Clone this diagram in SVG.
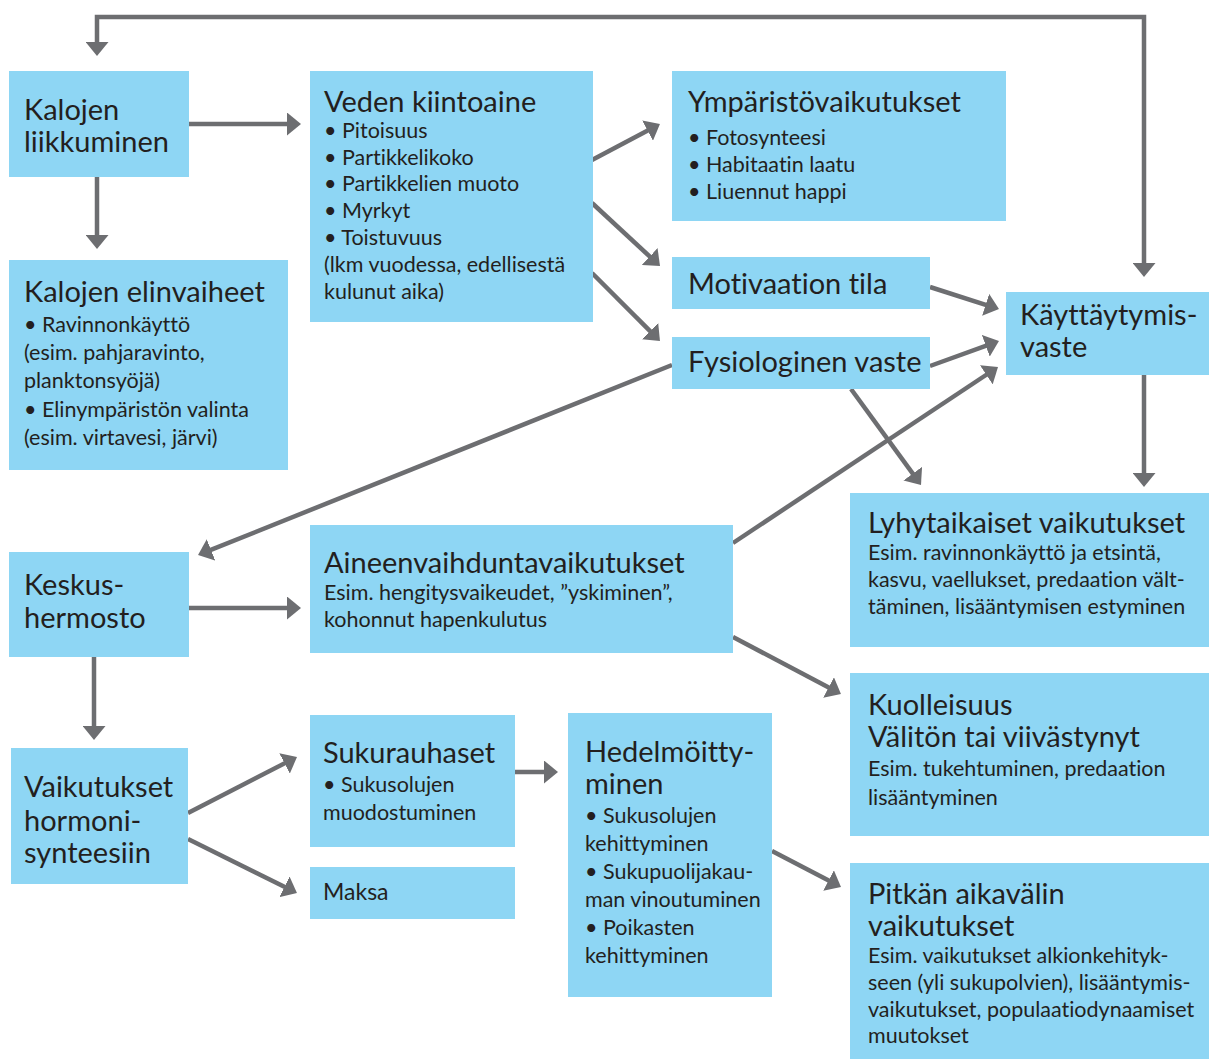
<svg xmlns="http://www.w3.org/2000/svg" width="1209" height="1059" viewBox="0 0 1209 1059">
<style>
.box{fill:#8ed6f4}
text{font-family:Lato,"Liberation Sans",sans-serif;fill:#231f20;font-variant-ligatures:none}
.t{font-size:29px}
.b{font-size:21.5px}
.c{fill:none;stroke:#6d6e71;stroke-width:4.5}
</style>
<defs>
<marker id="ah" markerUnits="userSpaceOnUse" viewBox="0 0 14 23" markerWidth="14" markerHeight="23" refX="5" refY="11.5" orient="auto-start-reverse">
<path d="M0,0 L14,11.5 L0,23 Z" fill="#6d6e71"/>
</marker>
</defs>
<rect width="1209" height="1059" fill="#ffffff"/>

<g id="connectors">
<path class="c" d="M97,47 L97,17 L1144,17 L1144,268" marker-start="url(#ah)" marker-end="url(#ah)"/>
<path class="c" d="M189,124 L292,124" marker-end="url(#ah)"/>
<path class="c" d="M97,177 L97,240" marker-end="url(#ah)"/>
<path class="c" d="M592,160 L652,128.2" marker-end="url(#ah)"/>
<path class="c" d="M592,203 L653.4,259.9" marker-end="url(#ah)"/>
<path class="c" d="M592,273 L653.6,334.6" marker-end="url(#ah)"/>
<path class="c" d="M930,287 L990.4,306.3" marker-end="url(#ah)"/>
<path class="c" d="M930,366 L990.5,344.1" marker-end="url(#ah)"/>
<path class="c" d="M733,543 L990.5,372" marker-end="url(#ah)"/>
<path class="c" d="M851,389 L915.7,477.7" marker-end="url(#ah)"/>
<path class="c" d="M1144,375 L1144,478" marker-end="url(#ah)"/>
<path class="c" d="M672,365 L206.4,551.7" marker-end="url(#ah)"/>
<path class="c" d="M189,608 L292,608" marker-end="url(#ah)"/>
<path class="c" d="M94,657 L94,731" marker-end="url(#ah)"/>
<path class="c" d="M733,637 L833,689.8" marker-end="url(#ah)"/>
<path class="c" d="M188,813 L289,761.1" marker-end="url(#ah)"/>
<path class="c" d="M188,839 L288.9,889" marker-end="url(#ah)"/>
<path class="c" d="M515,772 L549,772" marker-end="url(#ah)"/>
<path class="c" d="M772,851 L833,882.8" marker-end="url(#ah)"/>
</g>

<g id="kalojen-liikkuminen">
<rect class="box" x="9" y="71" width="180" height="106"/>
<text class="t" x="24" y="120">Kalojen</text>
<text class="t" x="24" y="152">liikkuminen</text>
</g>

<g id="veden-kiintoaine">
<rect class="box" x="310" y="71" width="283" height="251"/>
<text class="t" x="324" y="112">Veden kiintoaine</text>
<text class="b" x="324" y="138">• Pitoisuus</text>
<text class="b" x="324" y="165">• Partikkelikoko</text>
<text class="b" x="324" y="191">• Partikkelien muoto</text>
<text class="b" x="324" y="218">• Myrkyt</text>
<text class="b" x="324" y="245">• Toistuvuus</text>
<text class="b" x="324" y="272">(lkm vuodessa, edellisestä</text>
<text class="b" x="324" y="299">kulunut aika)</text>
</g>

<g id="ymparistovaikutukset">
<rect class="box" x="672" y="71" width="334" height="150"/>
<text class="t" x="688" y="112">Ympäristövaikutukset</text>
<text class="b" x="688" y="145">• Fotosynteesi</text>
<text class="b" x="688" y="172">• Habitaatin laatu</text>
<text class="b" x="688" y="199">• Liuennut happi</text>
</g>

<g id="kalojen-elinvaiheet">
<rect class="box" x="9" y="260" width="279" height="210"/>
<text class="t" x="24" y="302">Kalojen elinvaiheet</text>
<text class="b" x="24" y="332">• Ravinnonkäyttö</text>
<text class="b" x="24" y="360">(esim. pahjaravinto,</text>
<text class="b" x="24" y="388">planktonsyöjä)</text>
<text class="b" x="24" y="417">• Elinympäristön valinta</text>
<text class="b" x="24" y="445">(esim. virtavesi, järvi)</text>
</g>

<g id="motivaation-tila">
<rect class="box" x="672" y="257" width="258" height="52"/>
<text class="t" x="688" y="294">Motivaation tila</text>
</g>

<g id="fysiologinen-vaste">
<rect class="box" x="672" y="337" width="258" height="52"/>
<text class="t" x="688" y="372">Fysiologinen vaste</text>
</g>

<g id="kayttaytymisvaste">
<rect class="box" x="1006" y="292" width="203" height="83"/>
<text class="t" x="1020" y="325">Käyttäytymis-</text>
<text class="t" x="1020" y="357">vaste</text>
</g>

<g id="lyhytaikaiset">
<rect class="box" x="850" y="493" width="359" height="154"/>
<text class="t" x="868" y="533">Lyhytaikaiset vaikutukset</text>
<text class="b" x="868" y="560">Esim. ravinnonkäyttö ja etsintä,</text>
<text class="b" x="868" y="587">kasvu, vaellukset, predaation vält-</text>
<text class="b" x="868" y="614">täminen, lisääntymisen estyminen</text>
</g>

<g id="keskushermosto">
<rect class="box" x="9" y="552" width="180" height="105"/>
<text class="t" x="24" y="595">Keskus-</text>
<text class="t" x="24" y="628">hermosto</text>
</g>

<g id="aineenvaihdunta">
<rect class="box" x="310" y="525" width="423" height="128"/>
<text class="t" x="324" y="573">Aineenvaihduntavaikutukset</text>
<text class="b" x="324" y="600">Esim. hengitysvaikeudet, ”yskiminen”,</text>
<text class="b" x="324" y="627">kohonnut hapenkulutus</text>
</g>

<g id="kuolleisuus">
<rect class="box" x="850" y="673" width="359" height="163"/>
<text class="t" x="868" y="715">Kuolleisuus</text>
<text class="t" x="868" y="747">Välitön tai viivästynyt</text>
<text class="b" x="868" y="776">Esim. tukehtuminen, predaation</text>
<text class="b" x="868" y="805">lisääntyminen</text>
</g>

<g id="hormonisynteesi">
<rect class="box" x="11" y="748" width="177" height="136"/>
<text class="t" x="24" y="797">Vaikutukset</text>
<text class="t" x="24" y="831">hormoni-</text>
<text class="t" x="24" y="863">synteesiin</text>
</g>

<g id="sukurauhaset">
<rect class="box" x="310" y="715" width="205" height="132"/>
<text class="t" x="323" y="763">Sukurauhaset</text>
<text class="b" x="323" y="792">• Sukusolujen</text>
<text class="b" x="323" y="820">muodostuminen</text>
</g>

<g id="maksa">
<rect class="box" x="310" y="867" width="205" height="52"/>
<text class="b" x="323" y="900" style="font-size:23px">Maksa</text>
</g>

<g id="hedelmoittyminen">
<rect class="box" x="568" y="713" width="204" height="284"/>
<text class="t" x="585" y="762">Hedelmöitty-</text>
<text class="t" x="585" y="794">minen</text>
<text class="b" x="585" y="823">• Sukusolujen</text>
<text class="b" x="585" y="851">kehittyminen</text>
<text class="b" x="585" y="879">• Sukupuolijakau-</text>
<text class="b" x="585" y="907">man vinoutuminen</text>
<text class="b" x="585" y="935">• Poikasten</text>
<text class="b" x="585" y="963">kehittyminen</text>
</g>

<g id="pitkan-aikavalin">
<rect class="box" x="850" y="863" width="359" height="196"/>
<text class="t" x="868" y="904">Pitkän aikavälin</text>
<text class="t" x="868" y="936">vaikutukset</text>
<text class="b" x="868" y="963">Esim. vaikutukset alkionkehityk-</text>
<text class="b" x="868" y="990">seen (yli sukupolvien), lisääntymis-</text>
<text class="b" x="868" y="1017">vaikutukset, populaatiodynaamiset</text>
<text class="b" x="868" y="1043">muutokset</text>
</g>
</svg>
